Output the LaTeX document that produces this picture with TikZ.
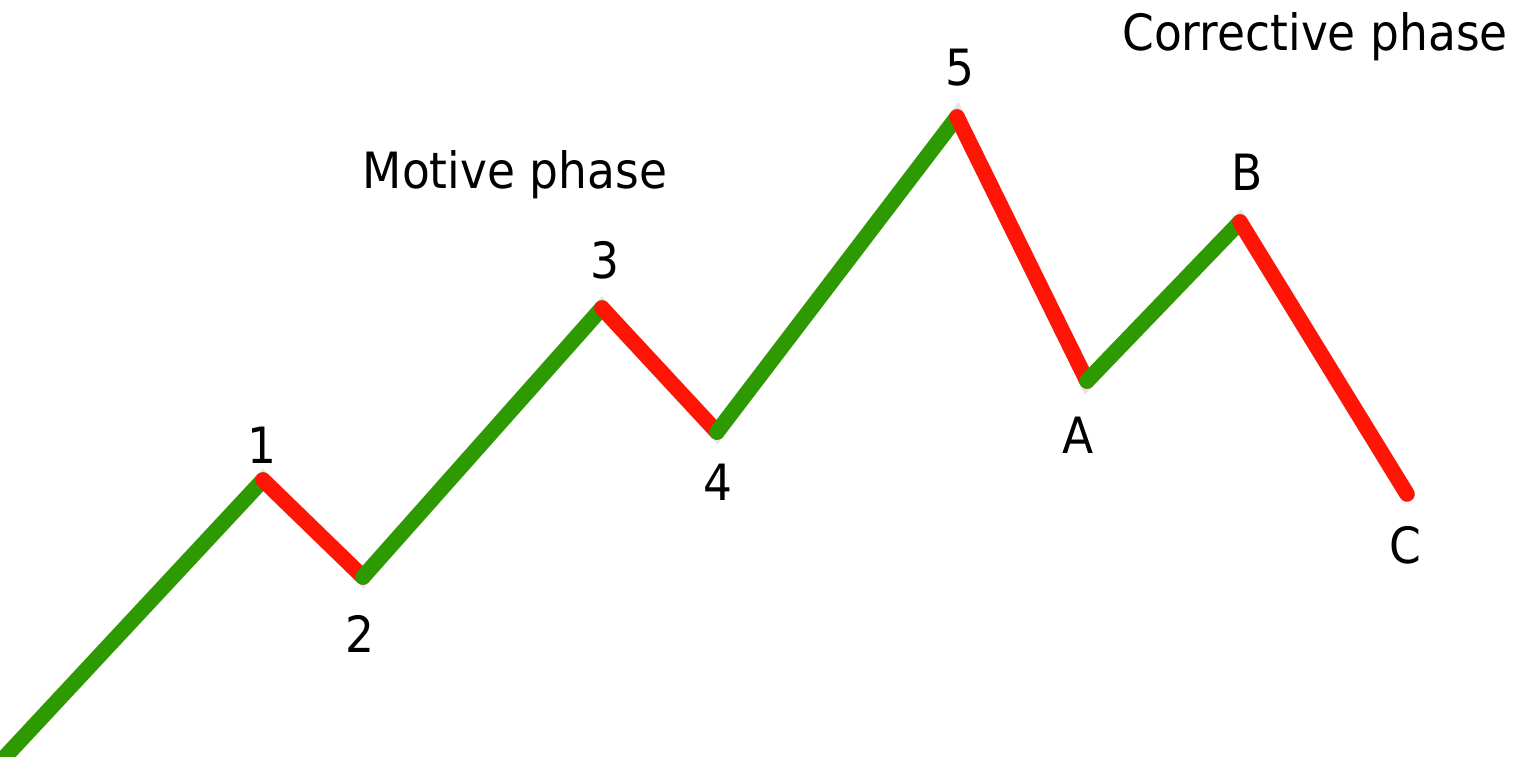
\documentclass[tikz,border=0pt]{standalone}
\usepackage{fontspec}
\setmainfont{DejaVu Sans}[FakeStretch=0.91]
\definecolor{wgreen}{HTML}{2C9A00}
\definecolor{wred}{HTML}{FF1405}
\tikzset{
  seg/.style={line width=15.5pt, line cap=round},
  up/.style={seg, draw=wgreen},
  down/.style={seg, draw=wred},
  shade/.style={line width=16pt, line cap=round, draw=black, opacity=0.10},
  lbl/.style={anchor=base, inner sep=0pt, font=\fontsize{50}{60}\selectfont, text=black}
}
\begin{document}
\begin{tikzpicture}[x=1pt,y=-1pt]
\useasboundingbox (0,0) rectangle (1525,756);
\clip (0,0) rectangle (1525,756);
\fill[white] (0,0) rectangle (1525,756);
% wave points
\coordinate (p0) at (4,758);
\coordinate (p1) at (263,480);
\coordinate (p2) at (363,577);
\coordinate (p3) at (602,308);
\coordinate (p4) at (717,432);
\coordinate (p5) at (957,117);
\coordinate (pA) at (1087,381);
\coordinate (pB) at (1240,222);
\coordinate (pC) at (1407,494);
% soft shadow
\begin{scope}[shift={(2,-3)}]
\draw[shade] (p0) -- (p1) -- (p2) -- (p3) -- (p4) -- (p5) -- (pA) -- (pB) -- (pC);
\end{scope}
% segments
\draw[up] (p0) -- (p1);
\draw[down] (p1) -- (p2);
\draw[up] (p2) -- (p3);
\draw[down] (p3) -- (p4);
\draw[up] (p4) -- (p5);
\draw[down] (p5) -- (pA);
\draw[up] (pA) -- (pB);
\draw[down] (pB) -- (pC);
% labels
\node[lbl] (l1) at (262,463) {1};
\node[lbl] (l2) at (360,652) {2};
\node[lbl] (l3) at (605,278) {3};
\node[lbl] (l4) at (718,500) {4};
\node[lbl] (l5) at (960,85) {5};
\node[lbl] (lA) at (1078,453) {A};
\node[lbl] (lB) at (1247,190) {B};
\node[lbl] (lC) at (1405,563) {C};
\node[lbl] (motive) at (515,188) {Motive phase};
\node[lbl] (corrective) at (1315,50) {Corrective phase};
\end{tikzpicture}
\end{document}
